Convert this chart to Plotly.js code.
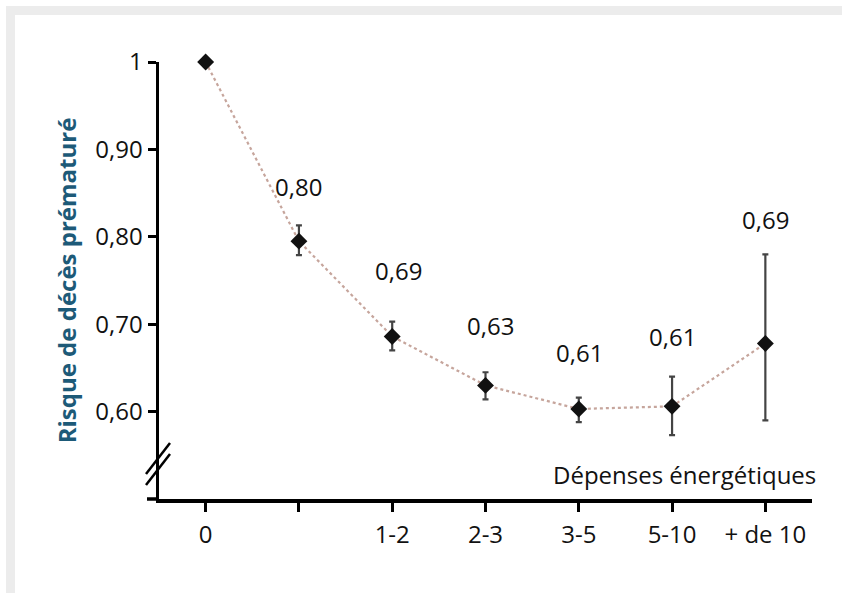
<!DOCTYPE html>
<html>
<head>
<meta charset="utf-8">
<script src="https://cdn.plot.ly/plotly-3.0.1.min.js"></script>
<style>html,body{margin:0;padding:0;background:#fff;}#chart{width:842px;height:593px;}</style>
</head>
<body>
<div id="chart"></div>
<script>
// Data
const categories = ["0", " ", "1-2", "2-3", "3-5", "5-10", "+ de 10"];
const risk = [1.0, 0.795, 0.686, 0.630, 0.603, 0.606, 0.678];
const errPlus = [0, 0.018, 0.017, 0.015, 0.013, 0.034, 0.102];
const errMinus = [0, 0.016, 0.016, 0.016, 0.015, 0.033, 0.088];
const valueLabels = ["", "0,80", "0,69", "0,63", "0,61", "0,61", "0,69"];
const yTickVals = [0.6, 0.7, 0.8, 0.9, 1.0];
const yTickText = ["0,60", "0,70", "0,80", "0,90", "1"];

// Label placement (layout only)
const labelY = [null, 0.857, 0.762, 0.699, 0.668, 0.686, 0.820];
const labelDx = [0, 0, 6, 5, 1, 0, 0];

const W = 842, H = 593, L = 159, R = 30, T = 62, B = 94;
const pw = W - L - R, ph = H - T - B;
const px = v => (v - L) / pw;
const py = v => (H - B - v) / ph;

const xIdx = categories.map((c, i) => i);
const FONT = "Open Sans, sans-serif";
const FS = 24;

const trace = {
  x: xIdx, y: risk, type: "scatter", mode: "lines+markers",
  line: {color: "#c6a59c", width: 2.2, dash: "dot"},
  marker: {symbol: "diamond", size: 13, color: "#111"},
  error_y: {type: "data", symmetric: false, array: errPlus, arrayminus: errMinus,
            color: "#444", thickness: 2.2, width: 3},
  cliponaxis: false, hoverinfo: "skip"
};

const annotations = [];
valueLabels.forEach((t, i) => {
  if (!t) return;
  annotations.push({x: xIdx[i], y: labelY[i], xref: "x", yref: "y", text: t, showarrow: false,
    xshift: labelDx[i], font: {family: FONT, size: FS, color: "#111"}});
});
annotations.push({x: 1, y: py(474), xref: "paper", yref: "paper", xanchor: "right", yanchor: "middle",
  text: "Dépenses énergétiques", showarrow: false, xshift: 6,
  font: {family: FONT, size: FS, color: "#111"}});

const shapes = [
  {type: "rect", xref: "paper", yref: "paper", x0: px(6), x1: px(15), y0: py(593), y1: py(6), fillcolor: "#ececec", line: {width: 0}, layer: "below"},
  {type: "rect", xref: "paper", yref: "paper", x0: px(6), x1: px(842), y0: py(15), y1: py(6), fillcolor: "#ececec", line: {width: 0}, layer: "below"},
  {type: "line", xref: "paper", yref: "paper", x0: px(147), x1: 0, y0: 0, y1: 0, line: {color: "#000", width: 3.5}},
  {type: "line", xref: "paper", yref: "paper", x0: px(146), x1: px(170), y0: py(474), y1: py(443), line: {color: "#000", width: 2.5}},
  {type: "line", xref: "paper", yref: "paper", x0: px(146), x1: px(170), y0: py(485), y1: py(454), line: {color: "#000", width: 2.5}}
];

const layout = {
  width: W, height: H,
  margin: {l: L, r: R, t: T, b: B, pad: 0},
  paper_bgcolor: "#fff", plot_bgcolor: "rgba(0,0,0,0)",
  showlegend: false,
  font: {family: FONT, size: FS, color: "#111"},
  xaxis: {range: [-0.5, 6.5], tickmode: "array", tickvals: xIdx, ticktext: categories,
    showline: true, linecolor: "#000", linewidth: 3.5, ticks: "outside", ticklen: 9, tickwidth: 3,
    tickcolor: "#000", showgrid: false, zeroline: false, fixedrange: true, ticklabelstandoff: 3,
    tickfont: {family: FONT, size: FS, color: "#111"}},
  yaxis: {range: [0.5, 1.0], tickmode: "array", tickvals: yTickVals, ticktext: yTickText,
    showline: true, linecolor: "#000", linewidth: 3.5, ticks: "outside", ticklen: 8, tickwidth: 3,
    tickcolor: "#000", showgrid: false, zeroline: false, fixedrange: true,
    tickfont: {family: FONT, size: FS, color: "#111"},
    title: {text: "<b>Risque de décès prématuré</b>", standoff: 13,
      font: {family: FONT, size: 24, color: "#1d5a78"}}},
  annotations: annotations,
  shapes: shapes
};

Plotly.newPlot("chart", [trace], layout, {displayModeBar: false, staticPlot: true});
</script>
</body>
</html>
